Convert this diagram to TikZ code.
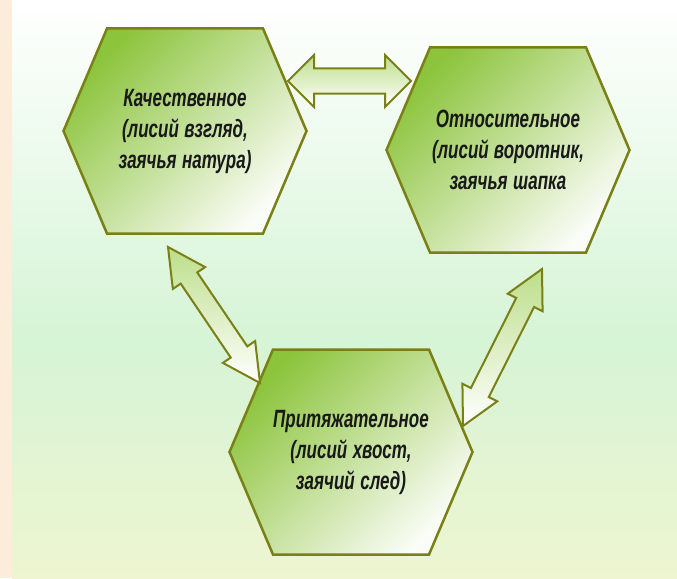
\documentclass[tikz,border=0pt]{standalone}
\usepackage{fontspec}
\newfontfamily\labelfont[FakeStretch=0.68]{Liberation Sans}
\usetikzlibrary{shapes.symbols,shapes.arrows,calc}
\definecolor{bgbeige}{RGB}{252,237,218}
\definecolor{bgmint}{RGB}{214,244,214}
\definecolor{bgpale}{RGB}{238,245,208}
\definecolor{hexgreen}{RGB}{140,196,60}
\definecolor{hexline}{RGB}{122,128,22}
\definecolor{arrowgreen}{RGB}{188,222,138}
\begin{document}
\begin{tikzpicture}[x=1pt,y=-1pt,
    hexcell/.style={signal, signal to=west and east, signal pointer angle=134,
      text width=156pt, minimum width=243pt, minimum height=205pt, inner sep=0pt,
      draw=hexline, line width=2.5pt,
      top color=hexgreen, bottom color=white!96!hexgreen, shading angle=45,
      align=center, text=black!90,
      font=\labelfont\bfseries\itshape\fontsize{25}{31}\selectfont,
      execute at begin node={\spaceskip=0.2em plus 0.05em\relax}},
    dblarrow/.style={double arrow, draw=hexline, line width=2pt,
      top color=arrowgreen, bottom color=white, inner xsep=0pt, minimum width=0pt},
    widearrow/.style={inner ysep=11.5pt, double arrow head extend=13.5pt, double arrow tip angle=90},
    slimarrow/.style={inner ysep=9pt, double arrow head extend=9.5pt, double arrow tip angle=55}]
  \useasboundingbox (0,0) rectangle (677,578);
  % background
  \fill[bgbeige] (0,0) rectangle (677,578);
  \shade[top color=white, bottom color=bgmint] (12,0) rectangle (677,340);
  \shade[top color=bgmint, bottom color=bgpale] (12,340) rectangle (677,578);
  % hexagons
  \node[hexcell] (qual) at (185,131) {Качественное\\(лисий взгляд,\\заячья натура)};
  \node[hexcell] (rel) at (508,150) {Относительное\\(лисий воротник,\\заячья шапка};
  \node[hexcell] (poss) at (351,452) {Притяжательное\\(лисий хвост,\\заячий след)};
  % arrow ends
  \coordinate (qr-a) at (288,81);
  \coordinate (qr-b) at (411,81);
  \coordinate (qp-a) at (168,247);
  \coordinate (qp-b) at (260,383);
  \coordinate (rp-a) at (542,269);
  \coordinate (rp-b) at (463,426);
  % double arrows
  \path let \p1=($(qr-b)-(qr-a)$), \n1={veclen(\x1,\y1)} in
    (qr-a) -- (qr-b) node[dblarrow, widearrow, midway, sloped, minimum height=\n1] (qr) {};
  \path let \p1=($(qp-b)-(qp-a)$), \n1={veclen(\x1,\y1)} in
    (qp-a) -- (qp-b) node[dblarrow, slimarrow, midway, sloped, minimum height=\n1] (qp) {};
  \path let \p1=($(rp-b)-(rp-a)$), \n1={veclen(\x1,\y1)} in
    (rp-a) -- (rp-b) node[dblarrow, slimarrow, midway, sloped, minimum height=\n1] (rp) {};
\end{tikzpicture}
\end{document}
